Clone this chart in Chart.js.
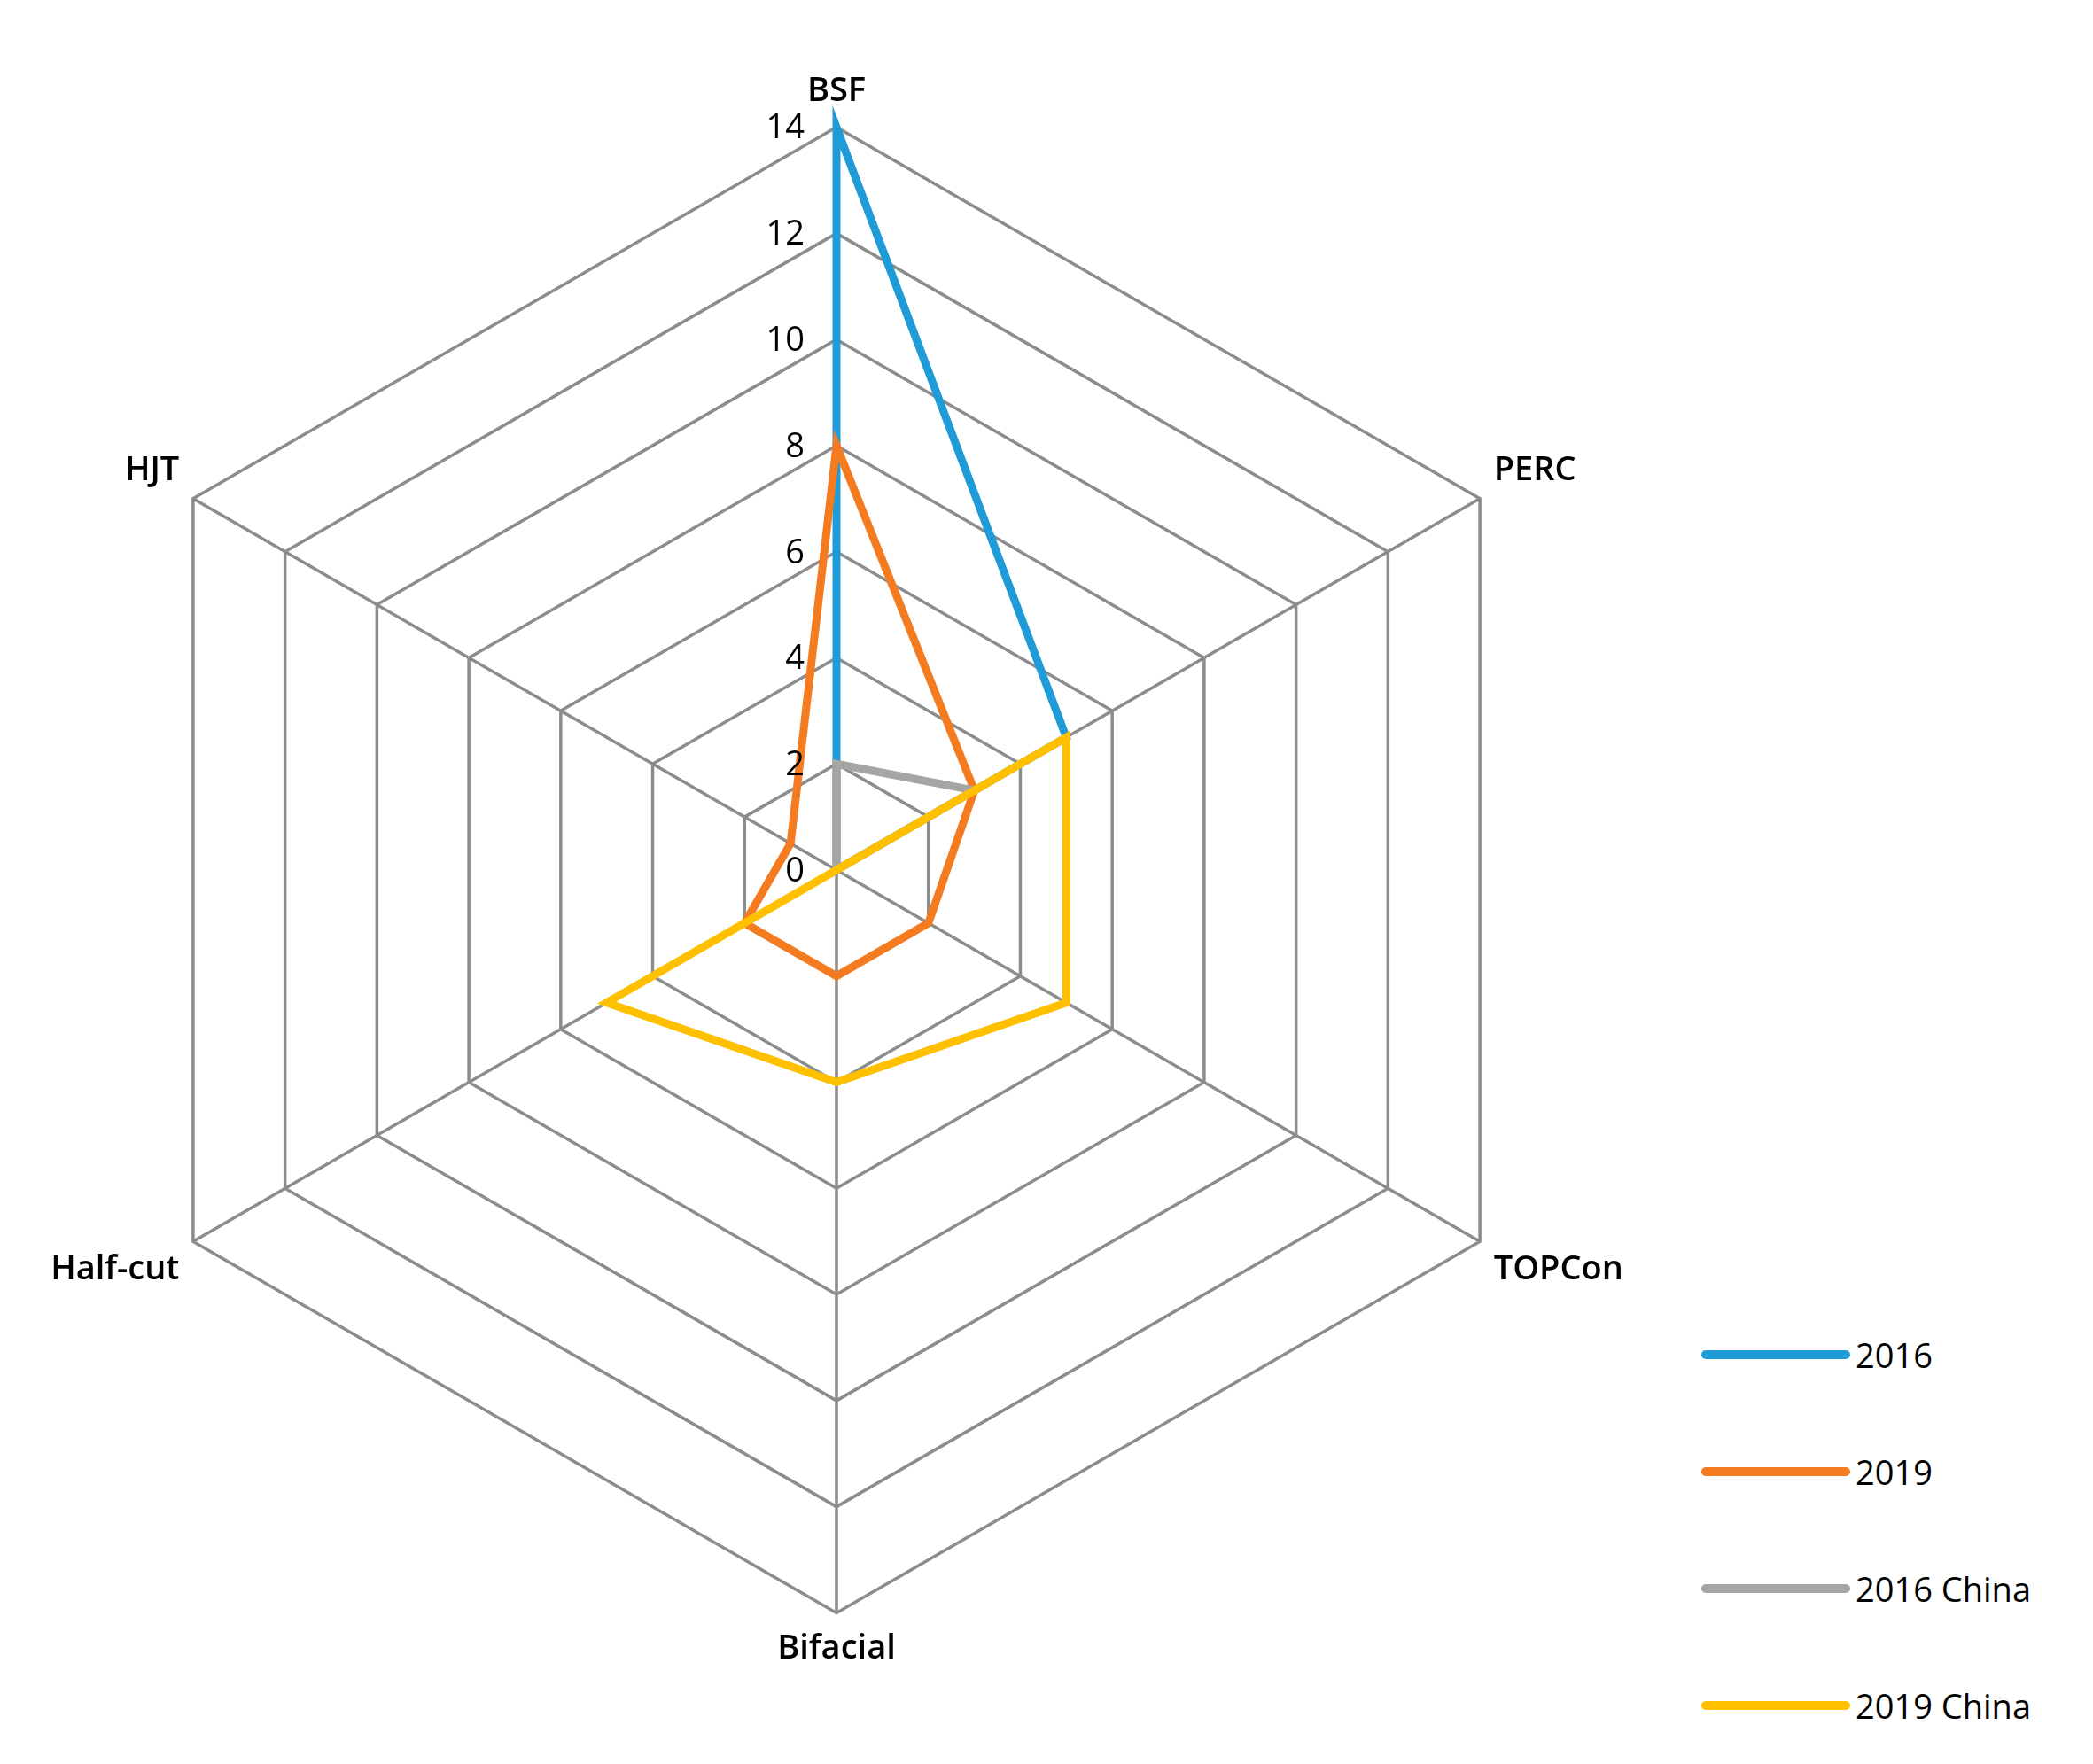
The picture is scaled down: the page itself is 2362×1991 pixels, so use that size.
<!DOCTYPE html>
<html><head><meta charset="utf-8">
<script src="https://cdn.jsdelivr.net/npm/chart.js@4/dist/chart.umd.min.js"></script>
<style>
html,body{margin:0;padding:0;background:#fff;width:2362px;height:1991px;overflow:hidden;font-family:"Open Sans",sans-serif}
#wrap{position:absolute;left:0;top:0;width:1888px;height:1964px}
#legend{position:absolute;left:1920px;top:1463px}
.li{display:flex;align-items:center;height:132px;font-size:38px;color:#000}
.li span{display:inline-block;width:168px;height:10px;border-radius:5px;margin-right:6px}
</style></head><body>
<div id="wrap"><canvas id="c"></canvas></div>
<div id="legend"></div>
<script>
const categories=["BSF","PERC","TOPCon","Bifacial","Half-cut","HJT"];
const tickValues=[0,2,4,6,8,10,12,14];
const s2016=[14,5,0,0,0,0];
const s2019=[8,3,2,2,2,1];
const s2016China=[2,3,0,0,0,0];
const s2019China=[0,5,5,4,5,0];
const names=["2016","2019","2016 China","2019 China"];
const colors=["#1f9bd7","#f47b20","#a5a5a5","#ffc000"];
const seriesData=[s2016,s2019,s2016China,s2019China];
const drawOrder=[3,2,1,0];
const tickPlugin={id:"ticks",afterDraw(ch){const s=ch.scales.r,ctx=ch.ctx;ctx.save();ctx.font="38px 'Open Sans'";ctx.fillStyle="#000";ctx.textAlign="right";ctx.textBaseline="middle";
tickValues.forEach(v=>{const d=s.getDistanceFromCenterForValue(v);ctx.fillText(String(v),s.xCenter-36,s.yCenter-d+2);});ctx.restore();}};
new Chart(document.getElementById("c"),{type:"radar",
data:{labels:categories,datasets:seriesData.map((d,i)=>({label:names[i],data:d,order:drawOrder[i],borderColor:colors[i],backgroundColor:"transparent",borderWidth:9,pointRadius:0,fill:false}))},
options:{responsive:true,maintainAspectRatio:false,animation:false,
layout:{padding:{top:80,bottom:80,left:0,right:0}},
plugins:{legend:{display:false},tooltip:{enabled:false}},
scales:{r:{min:0,max:14,ticks:{stepSize:2,display:false},
grid:{color:"#8c8c8c",lineWidth:3.5},angleLines:{color:"#8c8c8c",lineWidth:3.5},
pointLabels:{font:{size:38,family:"'Open Sans'",weight:"600"},color:"#000",padding:18}}}},
plugins:[tickPlugin]});
const lg=document.getElementById("legend");
names.forEach((n,i)=>{lg.innerHTML+=`<div class="li"><span style="background:${colors[i]}"></span>${n}</div>`;});
</script></body></html>
